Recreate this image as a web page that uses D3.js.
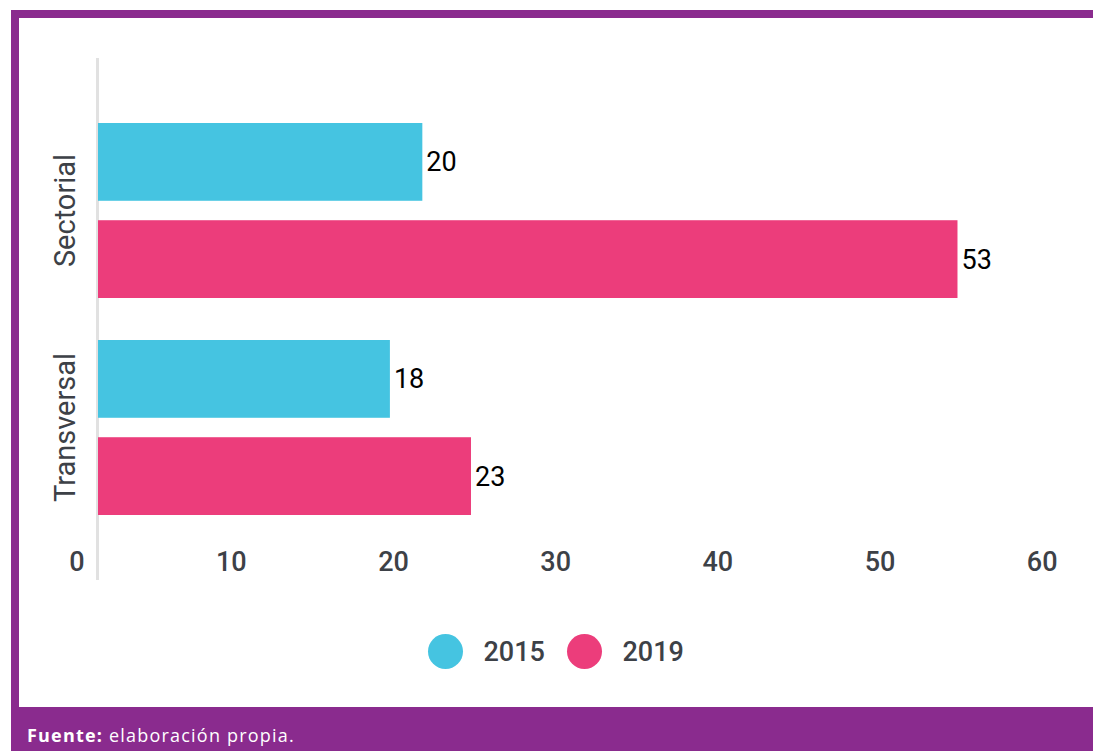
<!DOCTYPE html>
<html>
<head>
<meta charset="utf-8">
<script src="https://cdn.jsdelivr.net/npm/d3@7"></script>
<style>
  html, body { margin: 0; padding: 0; background: #fff; }
  svg { display: block; }
</style>
</head>
<body>
<div id="chart"></div>
<script>
// data
var categories = ["Sectorial", "Transversal"];
var series = ["2015", "2019"];
var values2015 = [20, 18];
var values2019 = [53, 23];
var xTicks = [0, 10, 20, 30, 40, 50, 60];
var colors = ["#45c4e1", "#ec3d7b"];

var width = 1093, height = 751;
var purple = "#8a2b8e";

var svg = d3.select("#chart").append("svg")
    .attr("width", width)
    .attr("height", height);

// frame: top and left border, bottom band
svg.append("rect").attr("x", 11).attr("y", 10).attr("width", width - 11).attr("height", 8).attr("fill", purple);
svg.append("rect").attr("x", 11).attr("y", 10).attr("width", 8).attr("height", 700).attr("fill", purple);
svg.append("rect").attr("x", 11).attr("y", 707).attr("width", width - 11).attr("height", 44).attr("fill", purple);

var source = svg.append("text")
    .attr("x", 27).attr("y", 742)
    .attr("fill", "#fff")
    .style("font-family", "'Open Sans', sans-serif")
    .style("font-size", "18px")
    .style("letter-spacing", "1.2px");
source.append("tspan").style("font-weight", "bold").text("Fuente:");
source.append("tspan").text(" elaboración propia.");

// scales
var x = d3.scaleLinear().domain([0, 60]).range([98, 1071]);

var y0 = d3.scaleBand()
    .domain(categories)
    .range([123, 515])
    .paddingInner(42 / 217);

var y1 = d3.scaleBand()
    .domain(series)
    .range([0, y0.bandwidth()])
    .paddingInner(0.2);

var rows = categories.map(function (c, i) {
    return { cat: c, vals: [values2015[i], values2019[i]] };
});

// axis line
svg.append("line")
    .attr("x1", 97.5).attr("x2", 97.5)
    .attr("y1", 58).attr("y2", 580)
    .attr("stroke", "#e1e1e1")
    .attr("stroke-width", 3);

// x axis labels
var xAxis = svg.append("g")
    .attr("transform", "translate(0,562)")
    .call(d3.axisBottom(x).tickValues(xTicks).tickSize(0).tickFormat(d3.format("d")));
xAxis.select(".domain").remove();
xAxis.selectAll("text")
    .attr("y", 0)
    .attr("dy", "0.35em")
    .attr("dx", -14)
    .attr("text-anchor", "end")
    .attr("fill", "#3d4147")
    .style("font-family", "Roboto, sans-serif")
    .style("font-weight", 500)
    .style("font-size", "27px");

// bars
var groups = svg.selectAll(".group")
    .data(rows)
    .enter().append("g")
    .attr("class", "group")
    .attr("transform", function (d) { return "translate(0," + y0(d.cat) + ")"; });

groups.selectAll("rect")
    .data(function (d) { return d.vals.map(function (v, j) { return { s: series[j], v: v, j: j }; }); })
    .enter().append("rect")
    .attr("x", x(0))
    .attr("y", function (d) { return y1(d.s); })
    .attr("width", function (d) { return x(d.v) - x(0); })
    .attr("height", y1.bandwidth())
    .attr("fill", function (d) { return colors[d.j]; });

groups.selectAll(".val")
    .data(function (d) { return d.vals.map(function (v, j) { return { s: series[j], v: v }; }); })
    .enter().append("text")
    .attr("class", "val")
    .attr("x", function (d) { return x(d.v) + 4; })
    .attr("y", function (d) { return y1(d.s) + y1.bandwidth() / 2; })
    .attr("dy", "0.35em")
    .attr("fill", "#000")
    .style("font-family", "Roboto, sans-serif")
    .style("font-size", "27px")
    .text(function (d) { return d.v; });

// category labels
svg.selectAll(".cat")
    .data(categories)
    .enter().append("text")
    .attr("class", "cat")
    .attr("transform", function (d) {
        return "translate(65," + (y0(d) + y0.bandwidth() / 2) + ") rotate(-90)";
    })
    .attr("dy", "0.35em")
    .attr("text-anchor", "middle")
    .attr("fill", "#3d4147")
    .style("font-family", "Roboto, sans-serif")
    .style("font-size", "29px")
    .text(function (d) { return d; });

// legend
var legendX = [445.5, 584.5];
var legend = svg.selectAll(".legend")
    .data(series)
    .enter().append("g")
    .attr("class", "legend")
    .attr("transform", function (d, i) { return "translate(" + legendX[i] + ",651.5)"; });

legend.append("circle")
    .attr("r", 17.5)
    .attr("fill", function (d, i) { return colors[i]; });

legend.append("text")
    .attr("x", 38)
    .attr("dy", "0.35em")
    .attr("fill", "#3d4147")
    .style("font-family", "Roboto, sans-serif")
    .style("font-weight", 500)
    .style("font-size", "27px")
    .text(function (d) { return d; });
</script>
</body>
</html>
